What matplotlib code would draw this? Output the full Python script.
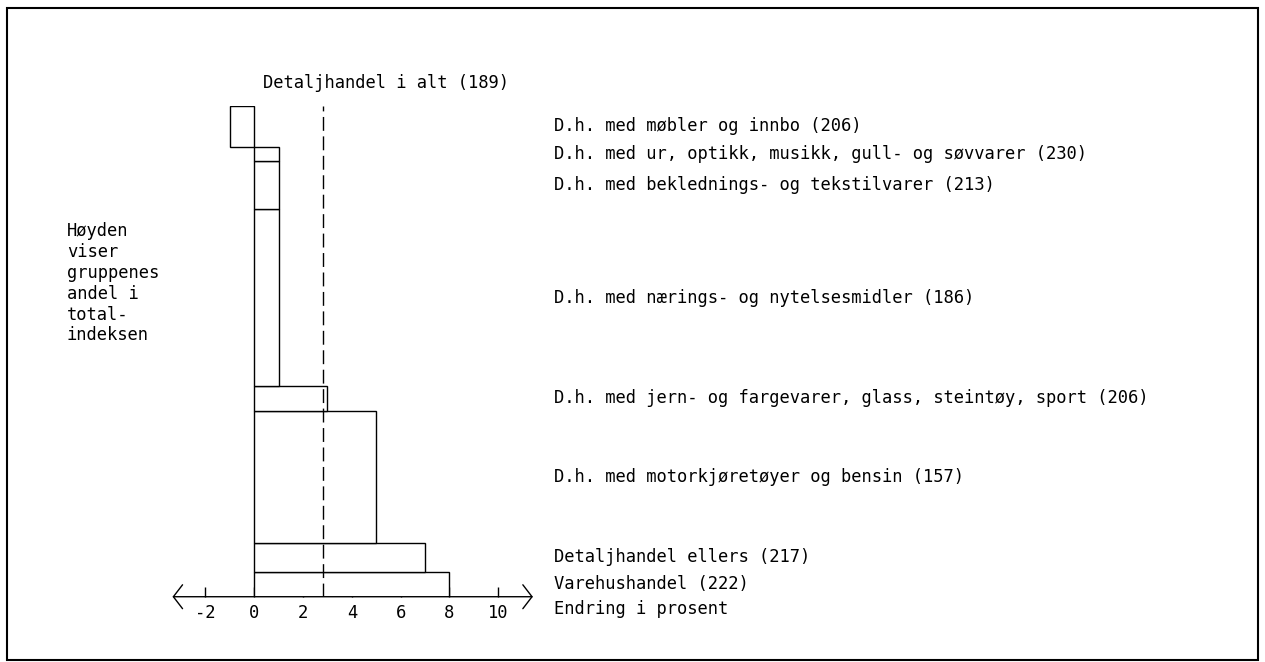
import matplotlib
matplotlib.use("Agg")
import matplotlib.pyplot as plt
from matplotlib import rcParams
import matplotlib.patches as patches

rcParams['font.family'] = 'DejaVu Sans Mono'
rcParams['font.size'] = 12.3
rcParams['axes.unicode_minus'] = False

# groups, bottom to top
groups = ["Varehushandel (222)",
          "Detaljhandel ellers (217)",
          "D.h. med motorkjøretøyer og bensin (157)",
          "D.h. med jern- og fargevarer, glass, steintøy, sport (206)",
          "D.h. med nærings- og nytelsesmidler (186)",
          "D.h. med beklednings- og tekstilvarer (213)",
          "D.h. med ur, optikk, musikk, gull- og søvvarer (230)",
          "D.h. med møbler og innbo (206)"]
change = [8, 7, 5, 3, 1, 1, 1, -1]          # endring i prosent
weight = [5.1, 5.9, 26.9, 5.1, 36.0, 9.9, 2.9, 8.2]  # andel i totalindeksen
total_change = 2.8
total_label = "Detaljhandel i alt (189)"
xticks = [-2, 0, 2, 4, 6, 8, 10]
xticklabels = ["-2", "0", "2", "4", "6", "8", "10"]
side_note = "Høyden\nviser\ngruppenes\nandel i\ntotal-\nindeksen"
axis_label = "Endring i prosent"

fig = plt.figure(figsize=(12.65, 6.62), dpi=100)
ax = fig.add_axes([0.1354, 0.0986, 0.2874, 0.7408])
ax.set_xlim(-3.4, 11.5)
ax.set_ylim(0, 100)
for s in ax.spines.values():
    s.set_visible(False)

bottoms = []
acc = 0
for w in weight:
    bottoms.append(acc)
    acc += w

ax.barh(bottoms, change, height=weight, left=0, align='edge',
        facecolor='white', edgecolor='black', linewidth=1.0, zorder=2)

ax.plot([total_change, total_change], [0, acc], color='black', lw=1.0,
        dashes=(10, 4), zorder=3)

# x axis with arrows
arr = patches.FancyArrowPatch((-3.35, 0), (11.42, 0),
                              arrowstyle='<->,head_length=0.33,head_width=0.43',
                              mutation_scale=20, color='black', lw=1.0,
                              shrinkA=0, shrinkB=0, clip_on=False, zorder=4)
ax.add_patch(arr)

ax.set_xticks(xticks)
ax.set_xticklabels(xticklabels)
ax.set_yticks([])
ax.tick_params(axis='x', direction='in', length=7, width=1.0, pad=5,
               labelsize=12.3)

label_x = 12.3
for name, b, w in zip(groups, bottoms, weight):
    ax.text(label_x, b + w / 2, name, va='center', ha='left')
ax.text(label_x, -2.6, axis_label, va='center', ha='left')
ax.text(0.35, 104.7, total_label, va='center', ha='left')

fig.text(67 / 1265, 0.664, side_note, va='top', ha='left', linespacing=1.2)

fig.add_artist(patches.Rectangle((0.0055, 0.003), 0.989, 0.985,
                                 transform=fig.transFigure, fill=False,
                                 edgecolor='black', lw=1.5))

fig.savefig("out.png", dpi=100)
